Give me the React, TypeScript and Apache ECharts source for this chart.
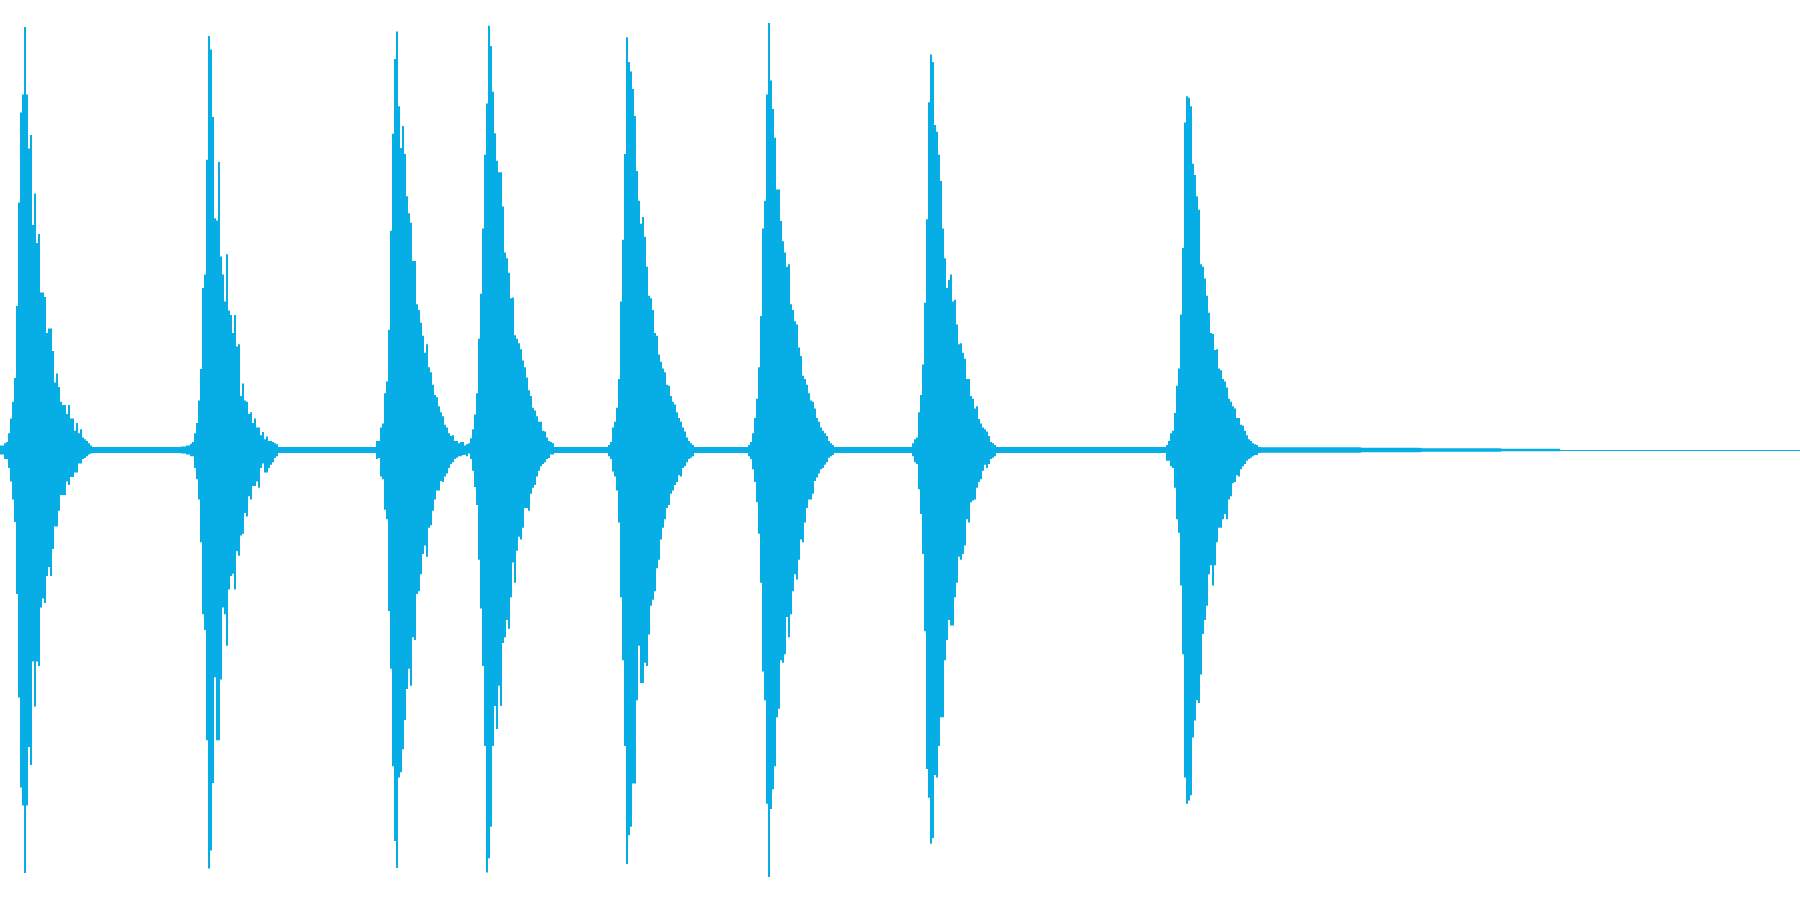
import React, { useEffect, useRef } from "react";
import * as echarts from "echarts";

// Waveform drawn as min/max envelope (time axis in px-units 0..1800, amplitude -1..1)
const WAVE_COLOR = "#06AEE5";
const COLUMN_STEP = 2;
const FLOOR_STEP = 20;
const TIME_END = 1800;

const BURST_STARTS = [0, 180, 376, 470, 608, 748, 912, 1166];

const BURST_1_TOP = [0.01,0.01,0.015,0.018,0.037,0.07,0.107,0.16,0.32,0.55,0.75,0.79,0.94,0.79,0.67,0.70,0.50,0.57,0.46,0.48,0.35,0.35,0.34,0.26,0.27,0.27,0.22,0.15,0.17,0.14,0.107,0.10,0.10,0.08,0.10,0.07,0.07,0.043,0.06,0.037,0.046,0.028,0.024,0.02,0.015,0.01];
const BURST_1_BOTTOM = [-0.01,-0.01,-0.02,-0.02,-0.04,-0.07,-0.11,-0.16,-0.32,-0.55,-0.75,-0.79,-0.94,-0.79,-0.66,-0.70,-0.47,-0.57,-0.47,-0.48,-0.35,-0.33,-0.34,-0.28,-0.26,-0.28,-0.22,-0.17,-0.17,-0.135,-0.10,-0.10,-0.10,-0.07,-0.078,-0.06,-0.06,-0.05,-0.05,-0.03,-0.03,-0.02,-0.018,-0.014,-0.01,-0.008];

const BURST_2_TOP = [0.008,0.008,0.008,0.01,0.01,0.014,0.018,0.037,0.06,0.11,0.18,0.36,0.39,0.645,0.92,0.89,0.74,0.515,0.51,0.64,0.43,0.39,0.33,0.435,0.31,0.30,0.26,0.30,0.23,0.235,0.12,0.148,0.11,0.107,0.08,0.084,0.06,0.07,0.05,0.05,0.033,0.04,0.024,0.03,0.02,0.02,0.018,0.015,0.013];
const BURST_2_BOTTOM = [-0.008,-0.008,-0.008,-0.01,-0.01,-0.014,-0.014,-0.04,-0.065,-0.11,-0.205,-0.365,-0.40,-0.645,-0.93,-0.89,-0.74,-0.505,-0.645,-0.645,-0.51,-0.35,-0.365,-0.435,-0.31,-0.28,-0.275,-0.31,-0.225,-0.235,-0.19,-0.186,-0.14,-0.148,-0.103,-0.11,-0.08,-0.08,-0.07,-0.084,-0.04,-0.03,-0.05,-0.05,-0.04,-0.033,-0.027,-0.018,-0.014];

const BURST_3_TOP = [0.02,0.02,0.05,0.059,0.126,0.152,0.267,0.487,0.703,0.869,0.93,0.764,0.671,0.72,0.658,0.564,0.526,0.505,0.42,0.42,0.324,0.311,0.283,0.254,0.216,0.235,0.184,0.173,0.145,0.122,0.117,0.097,0.084,0.075,0.056,0.05,0.037,0.031,0.033,0.02,0.02,0.015,0.018,0.018,0.01,0.013,0.015];
const BURST_3_BOTTOM = [-0.02,-0.018,-0.059,-0.065,-0.133,-0.154,-0.358,-0.486,-0.703,-0.869,-0.929,-0.728,-0.716,-0.665,-0.60,-0.531,-0.486,-0.524,-0.416,-0.422,-0.32,-0.314,-0.276,-0.231,-0.212,-0.237,-0.173,-0.167,-0.135,-0.11,-0.09,-0.09,-0.069,-0.071,-0.059,-0.052,-0.04,-0.031,-0.027,-0.02,-0.017,-0.014,-0.014,-0.011,-0.01,-0.014,-0.008];

const BURST_4_TOP = [0.026,0.046,0.079,0.126,0.247,0.347,0.492,0.656,0.77,0.943,0.898,0.796,0.704,0.643,0.617,0.617,0.541,0.439,0.426,0.394,0.337,0.339,0.255,0.247,0.237,0.224,0.199,0.184,0.161,0.133,0.12,0.094,0.088,0.075,0.063,0.063,0.043,0.041,0.028,0.02,0.018,0.015];
const BURST_4_BOTTOM = [-0.02,-0.046,-0.082,-0.122,-0.244,-0.352,-0.48,-0.658,-0.939,-0.907,-0.837,-0.658,-0.569,-0.62,-0.524,-0.569,-0.429,-0.416,-0.378,-0.397,-0.327,-0.25,-0.295,-0.224,-0.193,-0.199,-0.173,-0.129,-0.129,-0.135,-0.097,-0.084,-0.078,-0.059,-0.046,-0.036,-0.031,-0.027,-0.02,-0.018,-0.01,-0.01];

const BURST_5_TOP = [0.011,0.018,0.05,0.063,0.094,0.158,0.33,0.467,0.658,0.917,0.862,0.841,0.802,0.742,0.62,0.554,0.503,0.518,0.474,0.407,0.343,0.337,0.311,0.26,0.254,0.212,0.196,0.181,0.173,0.145,0.143,0.12,0.107,0.101,0.084,0.071,0.063,0.05,0.041,0.028,0.02,0.015,0.011];
const BURST_5_BOTTOM = [-0.014,-0.02,-0.048,-0.059,-0.09,-0.161,-0.327,-0.467,-0.658,-0.92,-0.856,-0.837,-0.741,-0.741,-0.556,-0.435,-0.518,-0.518,-0.473,-0.48,-0.41,-0.346,-0.333,-0.314,-0.263,-0.244,-0.199,-0.173,-0.154,-0.129,-0.122,-0.097,-0.09,-0.078,-0.071,-0.056,-0.059,-0.04,-0.036,-0.027,-0.02,-0.017,-0.014];

const BURST_6_TOP = [0.011,0.018,0.037,0.071,0.114,0.184,0.298,0.492,0.554,0.79,0.949,0.821,0.758,0.694,0.579,0.579,0.509,0.464,0.439,0.407,0.413,0.324,0.311,0.286,0.279,0.228,0.209,0.165,0.158,0.145,0.126,0.11,0.107,0.092,0.071,0.063,0.05,0.043,0.037,0.031,0.02,0.015,0.011];
const BURST_6_BOTTOM = [-0.014,-0.02,-0.043,-0.071,-0.116,-0.186,-0.295,-0.492,-0.556,-0.786,-0.949,-0.798,-0.754,-0.703,-0.594,-0.575,-0.467,-0.473,-0.454,-0.371,-0.416,-0.365,-0.314,-0.276,-0.288,-0.244,-0.199,-0.205,-0.161,-0.129,-0.11,-0.11,-0.097,-0.069,-0.061,-0.052,-0.043,-0.04,-0.033,-0.027,-0.017,-0.014,-0.011];

const BURST_7_TOP = [0.015,0.024,0.028,0.084,0.122,0.19,0.327,0.513,0.773,0.879,0.862,0.722,0.707,0.656,0.598,0.492,0.426,0.36,0.378,0.39,0.33,0.334,0.279,0.235,0.237,0.216,0.203,0.158,0.158,0.12,0.114,0.092,0.097,0.069,0.059,0.05,0.046,0.041,0.031,0.018,0.015,0.011];
const BURST_7_BOTTOM = [-0.014,-0.027,-0.031,-0.087,-0.142,-0.231,-0.403,-0.709,-0.773,-0.875,-0.862,-0.722,-0.728,-0.658,-0.594,-0.594,-0.467,-0.422,-0.378,-0.39,-0.39,-0.327,-0.295,-0.237,-0.244,-0.231,-0.212,-0.154,-0.161,-0.116,-0.112,-0.11,-0.084,-0.071,-0.065,-0.046,-0.033,-0.04,-0.031,-0.02,-0.017,-0.014];

const BURST_8_TOP = [0.011,0.02,0.037,0.043,0.082,0.143,0.181,0.301,0.449,0.728,0.786,0.783,0.764,0.636,0.611,0.564,0.534,0.413,0.407,0.381,0.343,0.305,0.26,0.258,0.222,0.224,0.181,0.177,0.158,0.152,0.139,0.114,0.107,0.097,0.092,0.071,0.071,0.056,0.054,0.043,0.033,0.024,0.02,0.015,0.013,0.011];
const BURST_8_BOTTOM = [-0.024,-0.024,-0.036,-0.04,-0.084,-0.154,-0.184,-0.301,-0.454,-0.728,-0.786,-0.779,-0.767,-0.639,-0.601,-0.556,-0.562,-0.499,-0.409,-0.378,-0.346,-0.276,-0.256,-0.301,-0.256,-0.205,-0.173,-0.173,-0.154,-0.142,-0.154,-0.11,-0.103,-0.074,-0.071,-0.056,-0.059,-0.043,-0.036,-0.031,-0.024,-0.02,-0.017,-0.014,-0.011,-0.011];

// background noise floor amplitude, one value per 20 time units (0..1800)
const NOISE_FLOOR = [
  0.0065,0.0065,0.0065,0.0065,0.0065,0.0065,0.0065,0.0065,0.0065,0.0065,
  0.0065,0.0065,0.0065,0.0065,0.0065,0.0065,0.0065,0.0065,0.0065,0.0065,
  0.0065,0.0065,0.0065,0.0065,0.0065,0.0065,0.0065,0.0065,0.0065,0.0065,
  0.0065,0.0065,0.0065,0.0065,0.0065,0.0065,0.0065,0.0065,0.0065,0.0065,
  0.0065,0.0065,0.0065,0.0065,0.0065,0.0065,0.0065,0.0065,0.0065,0.0065,
  0.0065,0.0065,0.0065,0.0065,0.0065,0.0065,0.0065,0.0065,0.0065,0.0065,
  0.0065,0.0065,0.0065,0.006,0.006,0.006,0.006,0.006,0.005,0.005,
  0.005,0.004,0.004,0.004,0.004,0.003,0.003,0.003,0,0,
  0,0,0,0,0,0,0,0,0,0,
];

const BURST_TOPS = [BURST_1_TOP, BURST_2_TOP, BURST_3_TOP, BURST_4_TOP, BURST_5_TOP, BURST_6_TOP, BURST_7_TOP, BURST_8_TOP];
const BURST_BOTTOMS = [BURST_1_BOTTOM, BURST_2_BOTTOM, BURST_3_BOTTOM, BURST_4_BOTTOM, BURST_5_BOTTOM, BURST_6_BOTTOM, BURST_7_BOTTOM, BURST_8_BOTTOM];

function envelopeAt(x: number): [number, number] {
  for (let b = 0; b < BURST_STARTS.length; b++) {
    const s = BURST_STARTS[b];
    const tops = BURST_TOPS[b];
    if (x >= s && x < s + tops.length * COLUMN_STEP) {
      const i = Math.floor((x - s) / COLUMN_STEP);
      return [tops[i], BURST_BOTTOMS[b][i]];
    }
  }
  const a = NOISE_FLOOR[Math.min(NOISE_FLOOR.length - 1, Math.floor(x / FLOOR_STEP))];
  return [a, -a];
}

export default function App() {
  const ref = useRef<HTMLDivElement>(null);

  useEffect(() => {
    if (!ref.current) return;
    const chart = echarts.init(ref.current, null, { renderer: "svg" });

    const upper: number[][] = [];
    const lower: number[][] = [];
    for (let x = 0; x <= TIME_END; x += COLUMN_STEP) {
      const [t, b] = envelopeAt(Math.min(x, TIME_END - COLUMN_STEP));
      upper.push([x, t]);
      lower.push([x, b]);
    }

    const envSeries = (name: string, data: number[][]) => ({
      name,
      type: "line",
      data,
      step: "end",
      symbol: "none",
      silent: true,
      lineStyle: { width: 0, opacity: 0 },
      areaStyle: { color: WAVE_COLOR, opacity: 1, origin: 0 },
    });

    chart.setOption({
      animation: false,
      grid: { left: 0, right: 0, top: 0, bottom: 0 },
      xAxis: { type: "value", min: 0, max: TIME_END, show: false },
      yAxis: { type: "value", min: -1, max: 1, show: false },
      series: [
        envSeries("upper", upper),
        {
          ...envSeries("lower", lower),
          markLine: {
            silent: true,
            symbol: "none",
            label: { show: false },
            lineStyle: { color: WAVE_COLOR, width: 1, type: "solid", opacity: 1 },
            data: [{ yAxis: 0 }],
          },
        },
      ],
    });

    return () => chart.dispose();
  }, []);

  return (
    <div
      ref={ref}
      style={{ position: "fixed", left: 0, top: 0, width: 1800, height: 900, background: "#fff" }}
    />
  );
}
